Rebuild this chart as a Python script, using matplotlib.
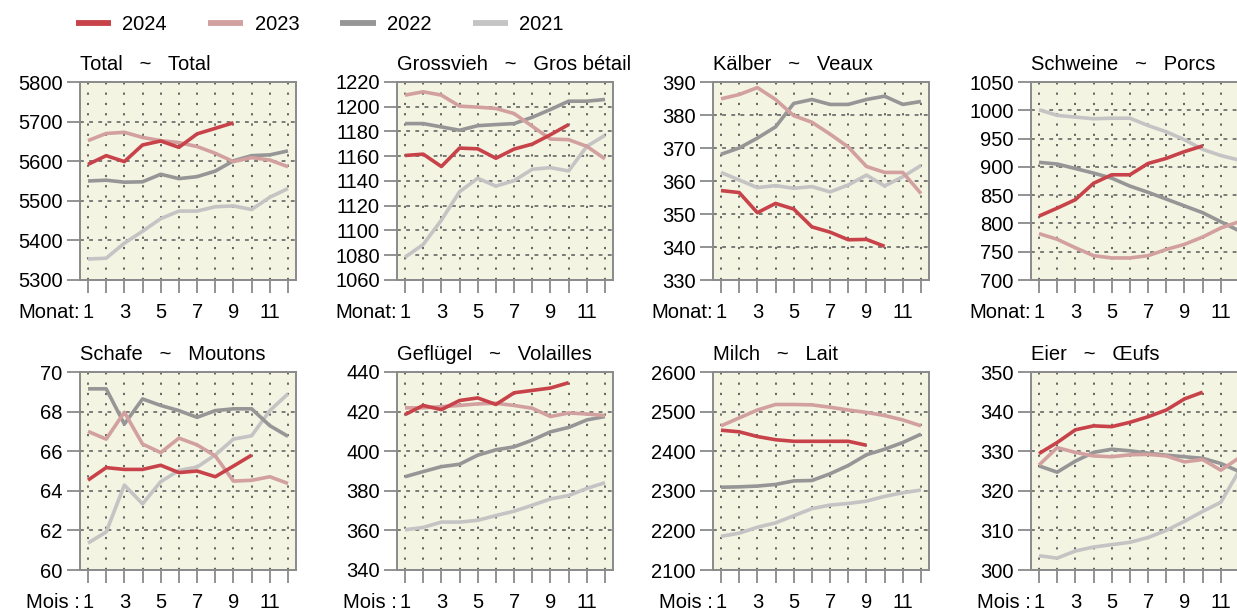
import numpy as np
import matplotlib
matplotlib.use('Agg')
import matplotlib.pyplot as plt
from matplotlib.lines import Line2D

plt.rcParams['font.family'] = ['Liberation Sans', 'DejaVu Sans']

months = np.arange(1, 13)
years = ['2024', '2023', '2022', '2021']

# Total ~ Total
total_2024 = [5592, 5614, 5599, 5641, 5651, 5635, 5669, 5683, 5697]
total_2023 = [5652, 5670, 5673, 5660, 5652, 5647, 5637, 5620, 5599, 5609, 5603, 5586]
total_2022 = [5550, 5552, 5547, 5548, 5567, 5556, 5561, 5575, 5601, 5614, 5616, 5626]
total_2021 = [5353, 5355, 5393, 5423, 5455, 5474, 5474, 5485, 5487, 5478, 5509, 5531]

# Grossvieh ~ Gros bétail
gross_2024 = [1160.6, 1161.7, 1151.7, 1166.6, 1166, 1158.4, 1165.8, 1169.8, 1177.4, 1185.6]
gross_2023 = [1209.4, 1212.1, 1209.4, 1200.5, 1199.7, 1198.6, 1194.5, 1184.2, 1173.9, 1173.4, 1168, 1157.9]
gross_2022 = [1186.4, 1186.4, 1183.7, 1181, 1184.7, 1185.6, 1186.4, 1191.5, 1197.8, 1204.5, 1204.5, 1205.9]
gross_2021 = [1078.4, 1088.7, 1108.3, 1131.3, 1142.2, 1135.9, 1140.3, 1149.5, 1150.8, 1148.1, 1168, 1176.9]

# Kälber ~ Veaux
kalb_2024 = [357.1, 356.5, 350.4, 353.2, 351.5, 346.1, 344.5, 342.2, 342.3, 340.2]
kalb_2023 = [384.9, 386.2, 388.3, 384.7, 379.8, 377.8, 374.2, 370.3, 364.4, 362.6, 362.6, 356.2]
kalb_2022 = [368.1, 370, 373, 376.4, 383.5, 384.7, 383.2, 383.2, 384.7, 385.7, 383.2, 384.1]
kalb_2021 = [362.6, 360.3, 358, 358.6, 357.8, 358.3, 356.7, 358.8, 361.8, 358.5, 361.3, 364.7]

# Schweine ~ Porcs
schw_2024 = [813, 827, 842, 871, 886, 886, 906, 915, 927, 937]
schw_2023 = [782, 772, 757, 743, 739, 739, 743, 754, 763, 776, 792, 803]
schw_2022 = [908, 905, 897, 889, 880, 866, 855, 843, 831, 819, 803, 787]
schw_2021 = [1001, 991, 988, 985, 986, 986, 973, 962, 948, 931, 920, 912]

# Schafe ~ Moutons
schaf_2024 = [64.54, 65.17, 65.08, 65.08, 65.29, 64.92, 65.0, 64.71, 65.25, 65.8]
schaf_2023 = [67.0, 66.61, 67.97, 66.36, 65.93, 66.66, 66.32, 65.76, 64.49, 64.53, 64.71, 64.37]
schaf_2022 = [69.15, 69.15, 67.37, 68.64, 68.31, 68.05, 67.71, 68.05, 68.14, 68.14, 67.29, 66.75]
schaf_2021 = [61.36, 61.92, 64.29, 63.34, 64.46, 65.03, 65.2, 65.81, 66.61, 66.78, 68.05, 68.9]

# Geflügel ~ Volailles
gefl_2024 = [418.5, 423.1, 421, 425.6, 426.9, 423.6, 429.5, 430.7, 431.9, 434.6]
gefl_2023 = [421.9, 421.9, 422.5, 423.1, 423.9, 424.2, 423.1, 421.7, 417.5, 419.3, 418.8, 418]
gefl_2022 = [387.1, 389.7, 392.2, 393.4, 398, 400.7, 402.2, 405.6, 409.8, 412, 415.8, 417.5]
gefl_2021 = [360.3, 361.5, 364.2, 364.2, 365.1, 367.5, 369.7, 372.7, 375.9, 377.6, 381.2, 384.1]

# Milch ~ Lait
milch_2024 = [2453, 2449, 2437, 2429, 2425, 2425, 2425, 2425, 2415]
milch_2023 = [2464, 2484, 2504, 2518, 2518, 2517, 2511, 2504, 2498, 2490, 2479, 2464]
milch_2022 = [2309, 2310, 2312, 2316, 2325, 2326, 2343, 2364, 2391, 2405, 2422, 2443]
milch_2021 = [2185, 2193, 2208, 2219, 2237, 2255, 2264, 2268, 2274, 2286, 2295, 2302]

# Eier ~ Œufs
eier_2024 = [329.4, 332.2, 335.4, 336.4, 336.2, 337.3, 338.7, 340.4, 343.2, 344.9]
eier_2023 = [326.5, 330.9, 329.7, 328.8, 328.6, 329.1, 329.2, 328.8, 327.3, 327.9, 325.2, 328.3]
eier_2022 = [326.3, 324.7, 327.5, 329.7, 330.5, 330.1, 329.5, 329.0, 328.6, 328.2, 326.9, 324.9]
eier_2021 = [303.6, 303.0, 304.8, 305.8, 306.4, 307.0, 308.2, 310.0, 312.3, 314.8, 317.1, 325.0]

titles = ['Total   ~   Total', 'Grossvieh   ~   Gros bétail', 'Kälber   ~   Veaux',
          'Schweine   ~   Porcs', 'Schafe   ~   Moutons', 'Geflügel   ~   Volailles',
          'Milch   ~   Lait', 'Eier   ~   Œufs']
yticks_list = [np.arange(5300, 5801, 100), np.arange(1060, 1221, 20), np.arange(330, 391, 10),
               np.arange(700, 1051, 50), np.arange(60, 71, 2), np.arange(340, 441, 20),
               np.arange(2100, 2601, 100), np.arange(300, 351, 10)]
data = [
    [total_2024, total_2023, total_2022, total_2021],
    [gross_2024, gross_2023, gross_2022, gross_2021],
    [kalb_2024, kalb_2023, kalb_2022, kalb_2021],
    [schw_2024, schw_2023, schw_2022, schw_2021],
    [schaf_2024, schaf_2023, schaf_2022, schaf_2021],
    [gefl_2024, gefl_2023, gefl_2022, gefl_2021],
    [milch_2024, milch_2023, milch_2022, milch_2021],
    [eier_2024, eier_2023, eier_2022, eier_2021],
]

colors = ['#c8424a', '#d3a0a0', '#969696', '#c4c4c4']
bg = '#f4f4e3'
frame = '#8a8a8a'
fs = 14.5

W, H = 1237, 610
fig = plt.figure(figsize=(W / 100, H / 100), dpi=100)

lefts = [80, 397, 713, 1031]
tops = [82, 372]
bw, bh = 216, 198

for i in range(8):
    r, c = divmod(i, 4)
    ax = fig.add_axes([lefts[c] / W, 1 - (tops[r] + bh) / H, bw / W, bh / H])
    ax.set_facecolor(bg)
    yt = yticks_list[i]
    ax.set_xlim(0.56, 12.44)
    ax.set_ylim(yt[0], yt[-1])

    for y in yt[1:-1]:
        ax.axhline(y, color='#5a5a5a', lw=1.1, ls=(0, (2.5, 3.5)), zorder=1)
    for m in months:
        ax.axvline(m, color='#5a5a5a', lw=1.3, ls=(0, (1.2, 4.5)), zorder=1)

    # oldest year first so 2024 ends up on top
    for k in [3, 2, 1, 0]:
        vals = data[i][k]
        ax.plot(months[:len(vals)], vals, color=colors[k], lw=2.6,
                solid_capstyle='butt', zorder=2 + (3 - k))

    for s in ax.spines.values():
        s.set_color(frame)
        s.set_linewidth(1.4)

    ax.set_yticks(yt)
    ax.set_xticks(months)
    ax.set_xticklabels([str(m) if m % 2 == 1 else '' for m in months])
    ax.tick_params(axis='both', direction='out', length=9.5, width=1.3, color=frame,
                   labelsize=fs, labelcolor='black')
    ax.tick_params(axis='y', pad=3)
    ax.tick_params(axis='x', pad=7)

    label = 'Monat:' if r == 0 else 'Mois :'
    ax.annotate(label, xy=(1, 0), xycoords=('data', 'axes fraction'),
                xytext=(-5.5, -(9.5 + 7)), textcoords='offset points',
                ha='right', va='top', fontsize=fs, annotation_clip=False)

    ax.set_title(titles[i], loc='left', fontsize=fs, pad=8.5)

handles = [Line2D([0], [0], color=colors[k], lw=4.2, solid_capstyle='butt') for k in range(4)]
fig.legend(handles, years, loc='center left', bbox_to_anchor=(76 / W, 1 - 25 / H),
           ncol=4, frameon=False, fontsize=fs, handlelength=1.75, handletextpad=0.55,
           columnspacing=2.05, borderpad=0, borderaxespad=0)

fig.savefig('out.png', dpi=100)
